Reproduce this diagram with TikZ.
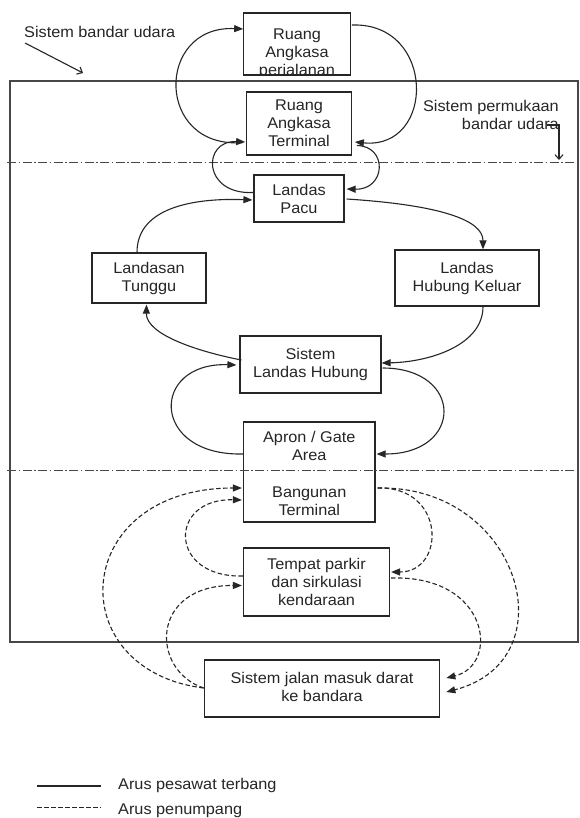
\documentclass[tikz,border=0pt]{standalone}
\usepackage{fontspec}
\setmainfont[FakeStretch=1.05]{Liberation Sans}
\usetikzlibrary{arrows.meta,calc}
\definecolor{ink}{HTML}{262626}
\begin{document}
\begin{tikzpicture}[x=1pt,y=-1pt,
  box/.style={draw=ink, line width=1.2pt, inner sep=0pt},
  txt/.style={text=ink, font=\fontsize{15.5}{18}\selectfont, align=center, inner sep=0pt},
  flow/.style={draw=ink, line width=1.1pt, -{Triangle[length=9pt,width=7pt]}},
  pax/.style={flow, dash pattern=on 4.5pt off 2.5pt},
  divider/.style={draw=ink!85, line width=1pt, dash pattern=on 9pt off 2.5pt on 1.5pt off 2.5pt},
  outerframe/.style={draw=ink!85, line width=1.3pt},
  pointer/.style={draw=ink, line width=1.1pt, -{Straight Barb[length=4.5pt,width=8pt]}},
  legline/.style={draw=ink, line width=1.1pt}]
\useasboundingbox (0,0) rectangle (579,818);
\fill[white] (0,0) rectangle (579,818);

% frame and dividers
\draw[outerframe] (10,81) rectangle (578,642);
\draw[divider] (7,163) -- (579,163);

% boxes
\node[box, minimum width=106.5, minimum height=62] (rap) at (297,44) {};
\begin{scope}
  \clip (rap.south west) rectangle (rap.north east);
  \node[txt] (raptext) at (297,53.5) {Ruang\\Angkasa\\perjalanan};
\end{scope}
\node[box, txt, minimum width=104.5, minimum height=63] (rat) at (299,123.5) {Ruang\\Angkasa\\Terminal};
\node[box, txt, minimum width=90, minimum height=47] (lp) at (299,198.5) {Landas\\Pacu};
\node[box, txt, minimum width=114, minimum height=50] (lt) at (149,278) {Landasan\\Tunggu};
\node[box, txt, minimum width=144, minimum height=56] (lhk) at (467,278) {Landas\\Hubung Keluar};
\node[box, txt, minimum width=141, minimum height=57] (slh) at (310.5,364.5) {Sistem\\Landas Hubung};
\node[box, minimum width=131.5, minimum height=100] (apb) at (309.25,472) {};
\node[txt] (apron) at (309.25,446) {Apron / Gate\\Area};
\node[txt] (bt) at (309.25,501) {Bangunan\\Terminal};
\node[box, txt, minimum width=146, minimum height=68] (tp) at (316.5,582) {Tempat parkir\\dan sirkulasi\\kendaraan};
\node[box, minimum width=235.5, minimum height=57] (sjm) at (322,688.5) {};
\node[txt] (sjmtext) at (322,686.5) {Sistem jalan masuk darat\\ke bandara};

\draw[divider] (7,470) -- (579,470);

% labels
\node[txt, anchor=base west] (sbu) at (24,38) {Sistem bandar udara};
\coordinate (sbuA) at (25,43);
\coordinate (sbuB) at (83,73);
\draw[pointer] (sbuA) -- (sbuB);
\node[txt, align=right, anchor=north east] (spbu) at (559,100.5) {Sistem permukaan\\bandar udara};
\coordinate (spA) at (547,125);
\coordinate (spB) at (559,125);
\coordinate (spC) at (559,160);
\draw[pointer] (spA) -- (spB) -- (spC);

% aircraft flow (solid)
\draw[flow] ($(rat.west)+(-3,19)$) .. controls (155,150) and (155,25) .. ($(rap.west)+(0,-15)$);
\draw[flow] ($(lp.west)+(0,-6)$) .. controls (202,195) and (202,140) .. ($(rat.west)+(-1,18.5)$);
\draw[flow] ($(rap.east)+(1,-19)$) .. controls (436,22) and (436,150) .. ($(rat.east)+(3,18.5)$);
\draw[flow] ($(rat.east)+(5,22)$) .. controls (388,146) and (386,190) .. ($(lp.east)+(2,-9.5)$);
\draw[flow] ($(lt.north)+(-12,0)$) .. controls (137,205) and (200,198) .. ($(lp.west)+(-1,1.5)$);
\draw[flow] ($(lp.east)+(2,0.5)$) .. controls (440,205) and (483,220) .. ($(lhk.north)+(16,0)$);
\draw[flow] ($(lhk.south)+(16,0)$) .. controls (483,345) and (430,362) .. ($(slh.east)+(0,-1.5)$);
\draw[flow] ($(slh.west)+(2,-4.5)$) .. controls (200,352) and (146,335) .. ($(lt.south)+(-2.5,1)$);
\draw[flow] ($(apb.west)+(0,-18)$) .. controls (150,456) and (150,362) .. ($(slh.west)+(-3,0.5)$);
\draw[flow] ($(slh.east)+(1,3.5)$) .. controls (464,368) and (464,454) .. ($(apb.east)+(1,-18)$);

% passenger flow (dashed)
\draw[pax] ($(sjm.west)+(0,-0.5)$) .. controls (60,670) and (70,488) .. ($(apb.west)+(-1,16)$);
\draw[pax] ($(tp.west)+(0,-6)$) .. controls (168,578) and (168,498) .. ($(apb.west)+(-1,28)$);
\draw[pax] ($(sjm.west)+(0,-0.5)$) .. controls (150,670) and (150,585) .. ($(tp.west)+(-1,3.5)$);
\draw[pax] ($(apb.east)+(2,16)$) .. controls (446,486) and (446,572) .. ($(tp.east)+(1,-10)$);
\draw[pax] ($(apb.east)+(2,16)$) .. controls (520,485) and (570,660) .. ($(sjm.east)+(6,3.5)$);
\draw[pax] ($(tp.east)+(1,-4)$) .. controls (490,575) and (500,665) .. ($(sjm.east)+(6,-10.5)$);

% legend
\coordinate (l1a) at (37,786);
\coordinate (l1b) at (101,786);
\draw[legline] (l1a) -- (l1b);
\node[txt, anchor=base west] (leg1) at (118,789) {Arus pesawat terbang};
\coordinate (l2a) at (37,807.5);
\coordinate (l2b) at (101,807.5);
\draw[legline, dash pattern=on 4.5pt off 2.5pt] (l2a) -- (l2b);
\node[txt, anchor=base west] (leg2) at (118,814) {Arus penumpang};
\end{tikzpicture}
\end{document}
